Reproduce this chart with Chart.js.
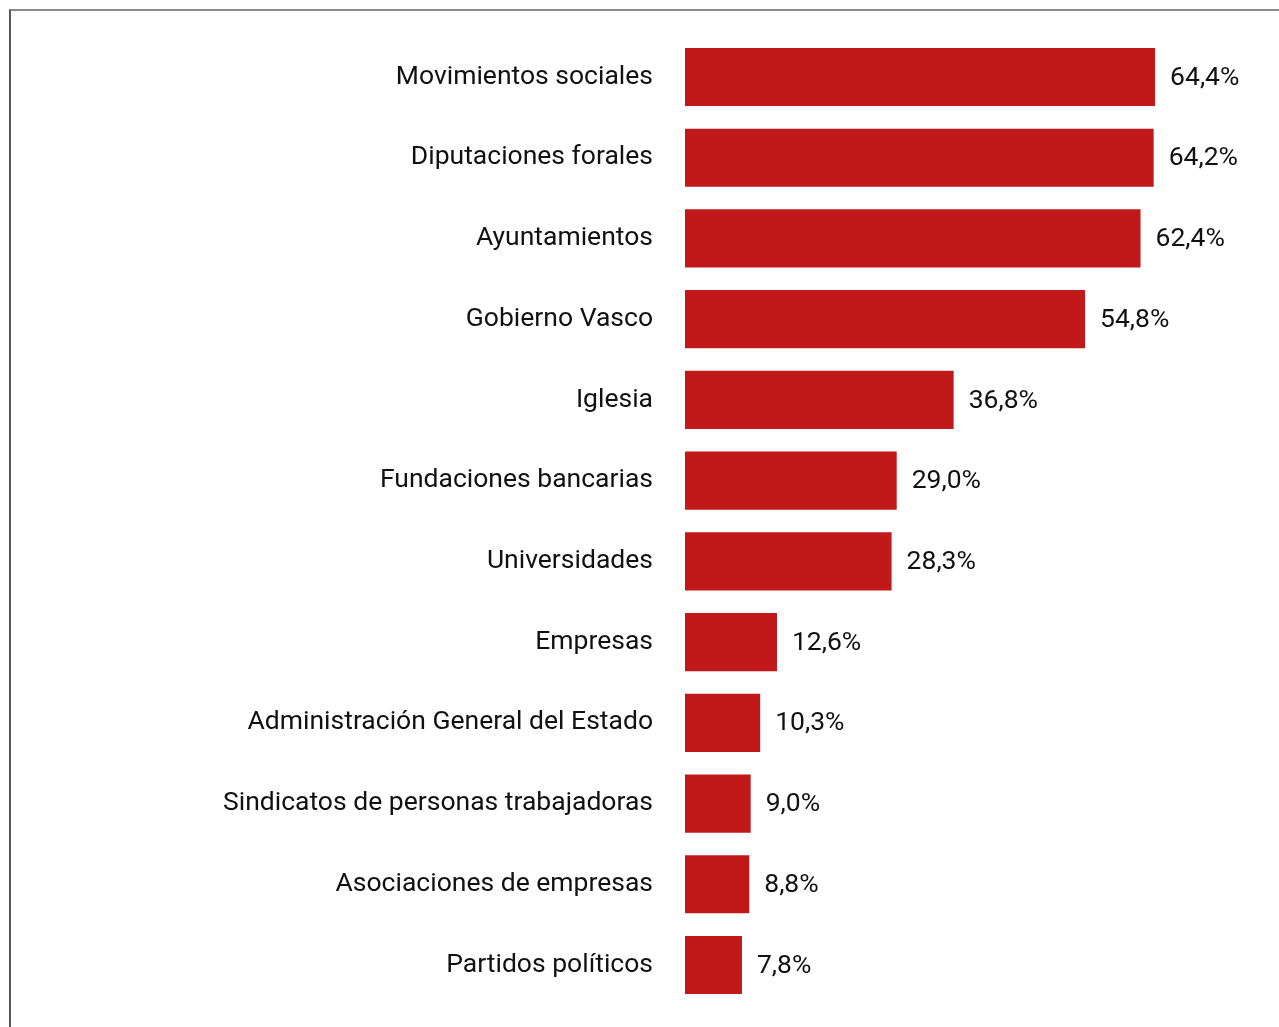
<!DOCTYPE html>
<html>
<head>
<meta charset="utf-8">
<script src="https://cdn.jsdelivr.net/npm/chart.js@4"></script>
<style>
    html, body { margin: 0; padding: 0; background: #fff; overflow: hidden; }
    #frame {
        position: absolute; left: 9px; top: 9px; width: 1270px; height: 1018px;
        border-top: 2px solid #8a8a8a; border-left: 2px solid #555;
        box-sizing: border-box;
    }
    #wrap { position: absolute; left: 0; top: 0; width: 1279px; height: 1027px; }
</style>
</head>
<body>
<div id="frame"></div>
<div id="wrap"><canvas id="chart"></canvas></div>
<script>
const categories = [
    "Movimientos sociales",
    "Diputaciones forales",
    "Ayuntamientos",
    "Gobierno Vasco",
    "Iglesia",
    "Fundaciones bancarias",
    "Universidades",
    "Empresas",
    "Administración General del Estado",
    "Sindicatos de personas trabajadoras",
    "Asociaciones de empresas",
    "Partidos políticos"
];
const values = [64.4, 64.2, 62.4, 54.8, 36.8, 29.0, 28.3, 12.6, 10.3, 9.0, 8.8, 7.8];

const barColor = "#c1191a";
const fontFamily = "Roboto, 'Noto Sans', sans-serif";

function fmt(v) {
    return v.toFixed(1).replace(".", ",") + "%";
}

// draws the value next to each bar
const valueLabels = {
    id: "valueLabels",
    afterDatasetsDraw(chart) {
        const ctx = chart.ctx;
        const meta = chart.getDatasetMeta(0);
        ctx.save();
        ctx.font = "26.5px " + fontFamily;
        ctx.fillStyle = "#111";
        ctx.textAlign = "left";
        ctx.textBaseline = "middle";
        meta.data.forEach((bar, i) => {
            ctx.fillText(fmt(values[i]), bar.x + 15, bar.y + 1);
        });
        ctx.restore();
    }
};

new Chart(document.getElementById("chart"), {
    type: "bar",
    data: {
        labels: categories,
        datasets: [{
            data: values,
            backgroundColor: barColor,
            borderWidth: 0,
            categoryPercentage: 0.9,
            barPercentage: 0.8
        }]
    },
    options: {
        indexAxis: "y",
        responsive: true,
        maintainAspectRatio: false,
        animation: false,
        layout: { padding: { top: 36.6, bottom: 21.6, right: 10, left: 0 } },
        plugins: {
            legend: { display: false },
            tooltip: { enabled: false }
        },
        scales: {
            x: {
                min: 0,
                max: 80,
                display: false
            },
            y: {
                grid: { display: false },
                border: { display: false },
                afterFit(scale) {
                    scale.width = 685;
                    scale.paddingTop = 0;
                    scale.paddingBottom = 0;
                },
                ticks: {
                    padding: 24,
                    color: "#111",
                    font: { family: fontFamily, size: 26.5 }
                }
            }
        }
    },
    plugins: [valueLabels]
});
</script>
</body>
</html>
